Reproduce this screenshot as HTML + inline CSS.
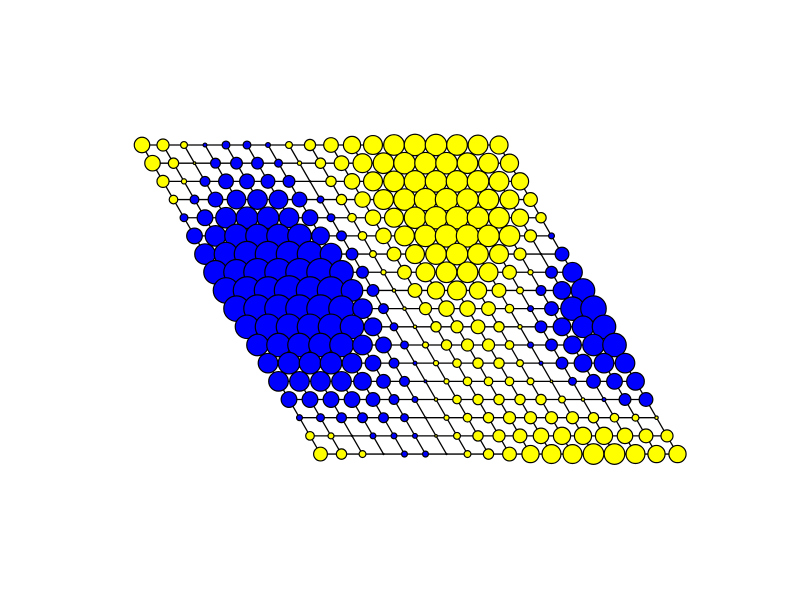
<!DOCTYPE html>
<html><head><meta charset="utf-8"><style>
html,body{margin:0;padding:0;background:#fff;}
svg{display:block;}
</style></head><body>
<svg id="chart" width="800" height="600" viewBox="0 0 800 600" xmlns="http://www.w3.org/2000/svg">
<rect width="800" height="600" fill="#fff"/>
<g id="edges"></g>
<g id="nodes"></g>
</svg>
<script>
// signed node values per row (positive = yellow, negative = blue), 18 rows x 18 cols
const row0=[9,7,4,-2,-4,-4,-2.5,4,6.5,8.5,10,11,12,12.5,12.5,12,11.5,10.5];
const row1=[9,6,1.5,-5,-6,-6,-4,2.5,6,8.5,11,12,12.5,12.5,12.5,12,11.5,10.5];
const row2=[7,3,-5,-7.5,-7.5,-7,-6,0.5,6,9,11,12,12.5,12.5,12.5,12.5,11.5,10];
const row3=[5,-4.5,-7.5,-9.5,-10,-9.5,-7.5,-3.5,6,9,11.5,12.5,13,13,12.5,12,11,8];
const row4=[-4,-8,-10.5,-11,-11,-10,-8,-4,5,9,11,12.5,13,13,12.5,12,10,6];
const row5=[-8,-10.5,-12,-12,-12,-12,-9,-5,5,9,11.5,12.5,13,13,12.5,12,7,-3];
const row6=[-10.5,-12,-13,-13,-13,-13,-11,-6,4,8,11,12,12.5,12,11,7,0.5,-7];
const row7=[-12,-13,-14,-14,-14,-14,-12,-6,3,8,11,12,12,11,8,3,-6,-10];
const row8=[-13,-14,-14,-15,-14,-14,-11,-6,2,8,10,11,10,8,4,-5,-9,-12];
const row9=[-13,-14,-14,-14,-14,-13,-10,-5,2,7,9,9,8,5,-3,-7,-12,-13];
const row10=[-12,-13,-13,-13,-13,-12,-9,-4,2,6,7,8,6,2.5,-6,-9,-11,-12];
const row11=[-11,-12,-12,-12,-12,-10,-8,-4,3.5,6,7,7,5,-3,-6,-9,-11,-12];
const row12=[-10,-11,-11,-11,-10,-8,-5,-2,3,5,6,6,4,-2,-6,-9,-10,-10];
const row13=[-10,-10,-10,-10,-9,-7,-5,-1.5,3,5,5,5,4,1.5,-4,-7,-8,-9];
const row14=[-8,-8,-8,-8,-7,-5,-3,2,5,6,6,6,6,4,2,-2,-6,-7];
const row15=[-3,-4,-5,-5,-5,-4,-0.5,3,5,6,7,7,7,7,6,5,4,2];
const row16=[5,3.5,0.5,-3,-3,-2.5,1.5,4,6,7,8,9,10,10,10,9,8,7];
const row17=[8,6,4,0.5,-3,-3,0.5,4,6,8,10,11,11,12,12,11,10,10];
const rows=[row0,row1,row2,row3,row4,row5,row6,row7,row8,row9,row10,row11,row12,row13,row14,row15,row16,row17];

const NS='http://www.w3.org/2000/svg';
const X0=142,Y0=145,DX=21,DY=18.18,SHIFT=10.5,RPOS=0.86,RNEG=0.98;
function px(r,c){return X0+c*DX+r*SHIFT;}
function py(r){return Y0+r*DY;}
const nR=rows.length,nC=rows[0].length;
const eg=document.getElementById('edges');
for(let r=0;r<nR;r++){
  const l=document.createElementNS(NS,'line');
  l.setAttribute('x1',px(r,0));l.setAttribute('y1',py(r));
  l.setAttribute('x2',px(r,nC-1));l.setAttribute('y2',py(r));
  l.setAttribute('stroke','#000');l.setAttribute('stroke-width','1.3');
  
  
  eg.appendChild(l);
}
for(let c=0;c<nC;c++){
  const l=document.createElementNS(NS,'line');
  l.setAttribute('x1',px(0,c));l.setAttribute('y1',py(0));
  l.setAttribute('x2',px(nR-1,c));l.setAttribute('y2',py(nR-1));
  l.setAttribute('stroke','#000');l.setAttribute('stroke-width','1.3');
  
  
  eg.appendChild(l);
}
const ng=document.getElementById('nodes');
for(let r=0;r<nR;r++){
  for(let c=0;c<nC;c++){
    const v=rows[r][c];
    const ci=document.createElementNS(NS,'circle');
    ci.setAttribute('cx',px(r,c));ci.setAttribute('cy',py(r));
    ci.setAttribute('r',Math.max(0.6,Math.abs(v)*(v>=0?RPOS:RNEG)));
    ci.setAttribute('fill',v>=0?'#ffff00':'#0000ff');
    ci.setAttribute('stroke','#000');ci.setAttribute('stroke-width','1.2');
    
    
    ng.appendChild(ci);
  }
}
</script>
</body></html>
